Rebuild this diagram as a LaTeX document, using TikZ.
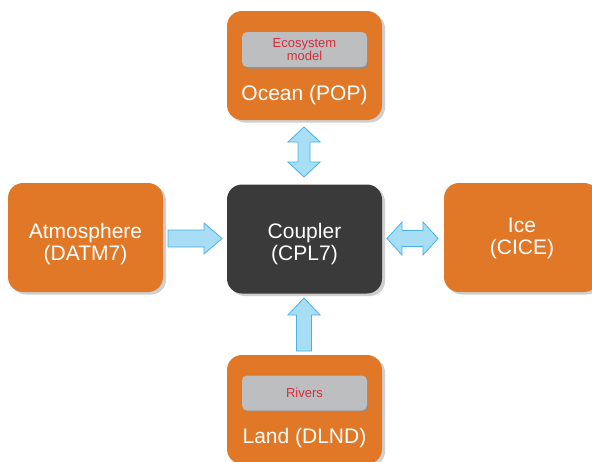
\documentclass[tikz,border=0pt]{standalone}
\usepackage{fontspec}
\setmainfont{Liberation Sans}
\definecolor{orangebox}{HTML}{E07828}
\definecolor{couplerbox}{HTML}{3A3A3A}
\definecolor{innergrey}{HTML}{BDBEC0}
\definecolor{innerred}{HTML}{D42E3A}
\definecolor{arrowfill}{HTML}{A8DDF6}
\definecolor{arrowline}{HTML}{45B5E8}
\definecolor{shadowgrey}{HTML}{CFCFCF}
\begin{document}
\begin{tikzpicture}[x=1pt,y=-1pt,
  box/.style={rectangle,rounded corners=15pt,minimum width=155pt,minimum height=109pt,inner sep=0pt,fill=orangebox},
  boxshadow/.style={rectangle,rounded corners=15pt,minimum width=155pt,minimum height=109pt,inner sep=0pt,fill=shadowgrey},
  inner/.style={rectangle,rounded corners=5pt,minimum width=125pt,minimum height=35pt,inner sep=0pt,fill=innergrey,text=innerred,font=\fontsize{13}{12}\selectfont,align=center},
  innershadow/.style={rectangle,rounded corners=5pt,minimum width=125pt,minimum height=35pt,inner sep=0pt,fill=black!45},
  big/.style={text=white,font=\fontsize{21}{22}\selectfont,align=center,inner sep=0pt},
  blockarrow/.style={fill=arrowfill,draw=arrowline,line width=0.8pt,line join=miter}
]
\useasboundingbox (0,0) rectangle (592,461);
\clip (0,0) rectangle (592,461);
\fill[white] (0,0) rectangle (592,461);

% shadows
\node[boxshadow] at (307.5,68) {};
\node[boxshadow] at (88.5,240) {};
\node[boxshadow] at (524.5,240) {};
\node[boxshadow] at (307.5,412) {};
\node[boxshadow] at (307.5,241.5) {};

% boxes
\node[box] (ocean) at (304.5,65.5) {};
\node[box] (atm) at (85.5,237.5) {};
\node[box] (ice) at (521.5,237.5) {};
\node[box] (land) at (304.5,409.5) {};
\node[box,fill=couplerbox] (cpl) at (304.5,239) {};

% inner boxes
\node[innershadow] at (305.5,51) {};
\node[inner] (eco) at (304.5,49.5) {Ecosystem\\model};
\node[innershadow] at (305.5,394) {};
\node[inner] (riv) at (304.5,393) {Rivers};

% texts
\node[big] (oceantxt) at (304.5,95) {Ocean (POP)};
\node[big] (landtxt) at (304.5,438.5) {Land (DLND)};
\node[big] (atmtxt) at (85.5,244) {Atmosphere\\(DATM7)};
\node[big] (icetxt) at (522,238.5) {Ice\\(CICE)};
\node[big] (cpltxt) at (304.5,244) {Coupler\\(CPL7)};

% arrows
% atmosphere -> coupler
\draw[blockarrow] (168,230) -- (204,230) -- (204,223) -- (222,238.5) -- (204,254) -- (204,247) -- (168,247) -- cycle;
% coupler <-> ice
\draw[blockarrow] (387,238.5) -- (402,222) -- (402,230.5) -- (423,230.5) -- (423,222) -- (438,238.5) -- (423,255) -- (423,246.5) -- (402,246.5) -- (402,255) -- cycle;
% ocean <-> coupler
\draw[blockarrow] (304,127) -- (320,142) -- (310,142) -- (310,162) -- (320,162) -- (304,177) -- (288,162) -- (298,162) -- (298,142) -- (288,142) -- cycle;
% land -> coupler
\draw[blockarrow] (304,298) -- (320,315) -- (311.5,315) -- (311.5,351) -- (296.5,351) -- (296.5,315) -- (288,315) -- cycle;
\end{tikzpicture}
\end{document}
